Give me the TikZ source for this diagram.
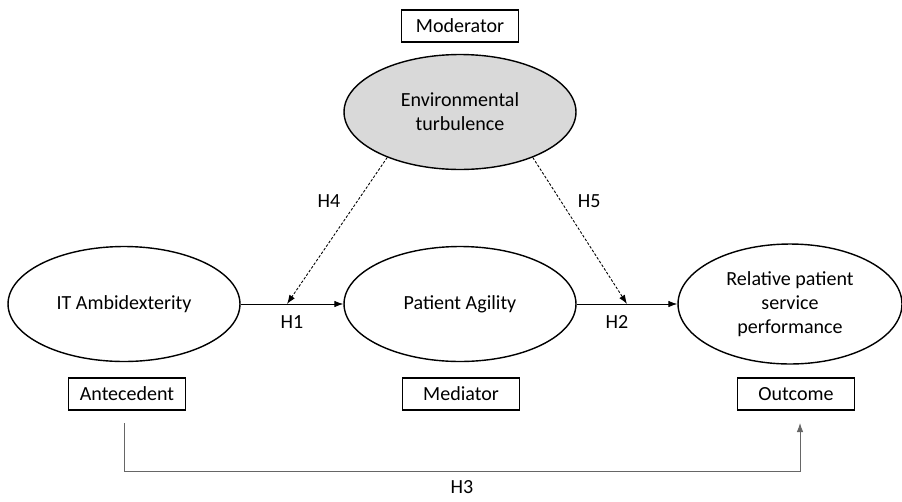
\documentclass[tikz,border=0pt]{standalone}
\usepackage{fontspec}
\setmainfont{Carlito}
\usepackage{tikz}
\usetikzlibrary{arrows.meta,shapes.geometric}

\begin{document}
\begin{tikzpicture}[
  x=0.02cm, y=-0.02cm,
  font=\fontsize{11.4}{13.6}\selectfont,
  construct/.style={draw, ellipse, line width=0.8pt, inner sep=0pt,
                    align=center, minimum width=4.64cm, minimum height=2.3cm},
  role/.style={draw, line width=0.6pt, inner sep=0pt,
               minimum width=2.34cm, minimum height=0.64cm},
  arrow/.style={-{Latex[length=1.8mm, width=1.3mm]}, line width=0.5pt},
  modarrow/.style={arrow, dashed, dash pattern=on 1.5pt off 1pt}
]
\useasboundingbox (0,0) rectangle (902,501);

% Moderator
\node[role] (moderator) at (460,26) {Moderator};
\node[construct, fill=gray!30] (env) at (460,112)
  {Environmental\\ turbulence};

% Main constructs
\node[construct] (itamb) at (124,304) {IT Ambidexterity};
\node[construct] (agility) at (460,304) {Patient Agility};
\node[construct, minimum width=4.48cm, minimum height=2.4cm] (perf) at (790,304)
  {Relative patient\\ service\\ performance};

% Role labels
\node[role] (antecedent) at (127,394) {Antecedent};
\node[role] (mediator) at (461,394) {Mediator};
\node[role] (outcome) at (796,394) {Outcome};

% Direct paths
\draw[arrow] (itamb.east) -- node[below=3pt, pos=0.5]{H1} (agility.west);
\draw[arrow] (agility.east) -- node[below=3pt, pos=0.4]{H2} (perf.west);

% Moderation (dashed)
\coordinate (h1pt) at (287,304);
\coordinate (h2pt) at (627,304);
\draw[modarrow] (env.212) -- node[left=6pt, pos=0.3]{H4} (h1pt);
\draw[modarrow] (env.328) -- node[right=6pt, pos=0.3]{H5} (h2pt);

% Antecedent to outcome
\coordinate (h3start) at (124,423);
\coordinate (h3end) at (800,423);
\draw[arrow, black!60] (h3start) -- ++(0,48) -| node[pos=0.25, below=2pt, black]{H3} (h3end);
\end{tikzpicture}
\end{document}
